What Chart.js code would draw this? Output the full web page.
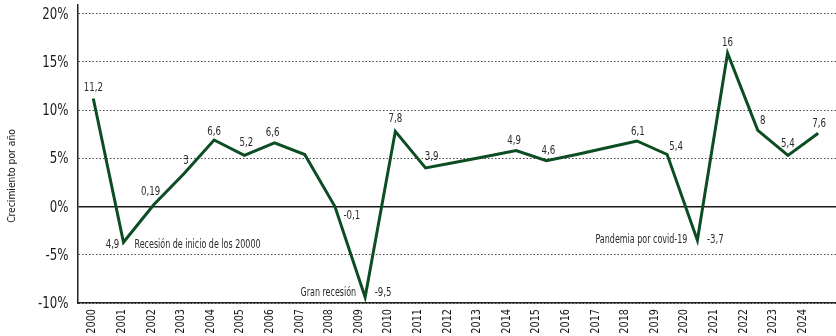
<!DOCTYPE html>
<html>
<head>
<meta charset="utf-8">
<script src="https://cdn.jsdelivr.net/npm/chart.js@4/dist/chart.umd.min.js"></script>
<style>
  html, body { margin: 0; padding: 0; background: #ffffff; }
  #wrap { width: 836px; height: 336px; position: relative; }
</style>
</head>
<body>
<div id="wrap"><canvas id="c" width="836" height="336"></canvas></div>
<script>
// ---- data ----
const years = ['2000','2001','2002','2003','2004','2005','2006','2007','2008','2009','2010','2011','2012',
               '2013','2014','2015','2016','2017','2018','2019','2020','2021','2022','2023','2024'];
const growth = [11.2, -3.7, 0.19, 3.4, 6.9, 5.3, 6.6, 5.4, 0, -9.4, 7.8, 4.0, 4.6,
                5.2, 5.8, 4.75, 5.4, 6.1, 6.8, 5.4, -3.5, 15.9, 7.9, 5.3, 7.6];
const pointLabels = ['11,2','4,9','0,19','3','6,6','5,2','6,6','','-0,1','-9,5','7,8','3,9','',
                     '','4,9','4,6','','','6,1','5,4','-3,7','16','8','5,4','7,6'];
const yTickValues = [-10, -5, 0, 5, 10, 15, 20];
const yTitle = 'Crecimiento por año';
const annotations = [
  { index: 1, text: 'Recesión de inicio de los 20000' },
  { index: 9, text: 'Gran recesión' },
  { index: 20, text: 'Pandemia por covid-19' }
];

// ---- styling / placement (not data) ----
const FONT = "'DejaVu Sans Condensed', 'DejaVu Sans', sans-serif";
const labelOffsets = [[0,-11],[-11,3],[-3,-13],[2,-13],[0,-8],[2,-13],[-2,-10],[0,0],[17,9],[18,-4],
                      [0,-12],[6,-11],[0,0],[0,0],[-2,-10],[2,-10],[0,0],[0,0],[1,-9],[9,-8],
                      [18,0],[0,-10],[5,-9],[0,-12],[1,-9]];
const annotPlace = { 1: { dx: 11, dy: 3, align: 'left' }, 9: { dx: -9, dy: -4, align: 'right' }, 20: { dx: -10, dy: 0, align: 'right' } };

function squeezedText(ctx, text, x, y, sx, align) {
  ctx.save();
  ctx.translate(x, y);
  ctx.scale(sx, 1);
  ctx.textAlign = align;
  ctx.fillText(text, 0, 0);
  ctx.restore();
}

const labelPlugin = {
  id: 'customText',
  afterDatasetsDraw(chart) {
    const ctx = chart.ctx;
    const meta = chart.getDatasetMeta(0);
    const ys = chart.scales.y, xt = chart.scales.xt;
    ctx.save();
    ctx.textBaseline = 'middle';

    // data labels + annotations
    ctx.fillStyle = '#2a2a2a';
    ctx.font = '12px ' + FONT;
    meta.data.forEach((pt, i) => {
      const t = pointLabels[i];
      if (!t) return;
      const o = labelOffsets[i];
      squeezedText(ctx, t, pt.x + o[0], pt.y + o[1], 0.8, 'center');
    });
    annotations.forEach(a => {
      const pt = meta.data[a.index];
      const p = annotPlace[a.index];
      squeezedText(ctx, a.text, pt.x + p.dx, pt.y + p.dy, 0.74, p.align);
    });

    // y tick labels
    ctx.fillStyle = '#1a1a1a';
    ctx.font = '16px ' + FONT;
    yTickValues.forEach(v => {
      squeezedText(ctx, v + '%', ys.left + ys.width - 9, ys.getPixelForValue(v) + 1, 0.82, 'right');
    });

    // x tick labels (rotated)
    ctx.font = '13px ' + FONT;
    years.forEach(yr => {
      const x = xt.getPixelForValue(Number(yr));
      ctx.save();
      ctx.translate(x, xt.top + 6);
      ctx.rotate(-Math.PI / 2);
      ctx.scale(0.83, 1);
      ctx.textAlign = 'right';
      ctx.fillText(yr, 0, 0);
      ctx.restore();
    });

    // y axis title
    ctx.font = '11px ' + FONT;
    ctx.save();
    ctx.translate(12, 176);
    ctx.rotate(-Math.PI / 2);
    ctx.scale(0.93, 1);
    ctx.textAlign = 'center';
    ctx.fillText(yTitle, 0, 0);
    ctx.restore();

    ctx.restore();
  }
};

new Chart(document.getElementById('c'), {
  type: 'line',
  data: {
    datasets: [{
      data: growth.map((v, i) => ({ x: i, y: v })),
      xAxisID: 'x',
      yAxisID: 'y',
      borderColor: '#0c4d23',
      borderWidth: 3,
      pointRadius: 0,
      tension: 0,
      fill: false
    }]
  },
  options: {
    responsive: false,
    animation: false,
    devicePixelRatio: 1,
    layout: { padding: { left: 0, right: 0, top: 5, bottom: 0 } },
    plugins: { legend: { display: false }, tooltip: { enabled: false } },
    scales: {
      x: {
        type: 'linear', display: false, min: -0.523, max: 24.59
      },
      xt: {
        type: 'linear', position: 'bottom', min: 1999.51, max: 2025.13,
        afterBuildTicks: (s) => { s.ticks = years.map(y => ({ value: Number(y) })); },
        afterFit: (s) => { s.height = 33; s.paddingLeft = 0; s.paddingRight = 0; },
        grid: { display: false, drawTicks: false },
        border: { display: true, color: '#222', width: 1.5 },
        ticks: { display: false }
      },
      y: {
        type: 'linear', position: 'left', min: -10, max: 20.9,
        afterBuildTicks: (s) => { s.ticks = yTickValues.map(v => ({ value: v })); },
        afterFit: (s) => { s.width = 77.5; s.paddingTop = 0; s.paddingBottom = 0; },
        grid: {
          drawTicks: false,
          color: (c) => (c.tick && c.tick.value === 0) ? '#1a1a1a' : '#4a4a4a',
          lineWidth: (c) => (c.tick && c.tick.value === 0) ? 1.5 : 1
        },
        border: {
          display: true, color: '#222', width: 1.5,
          dash: (c) => (c.tick && c.tick.value === 0) ? [] : [1.5, 2]
        },
        ticks: { display: false }
      }
    }
  },
  plugins: [labelPlugin]
});
</script>
</body>
</html>
